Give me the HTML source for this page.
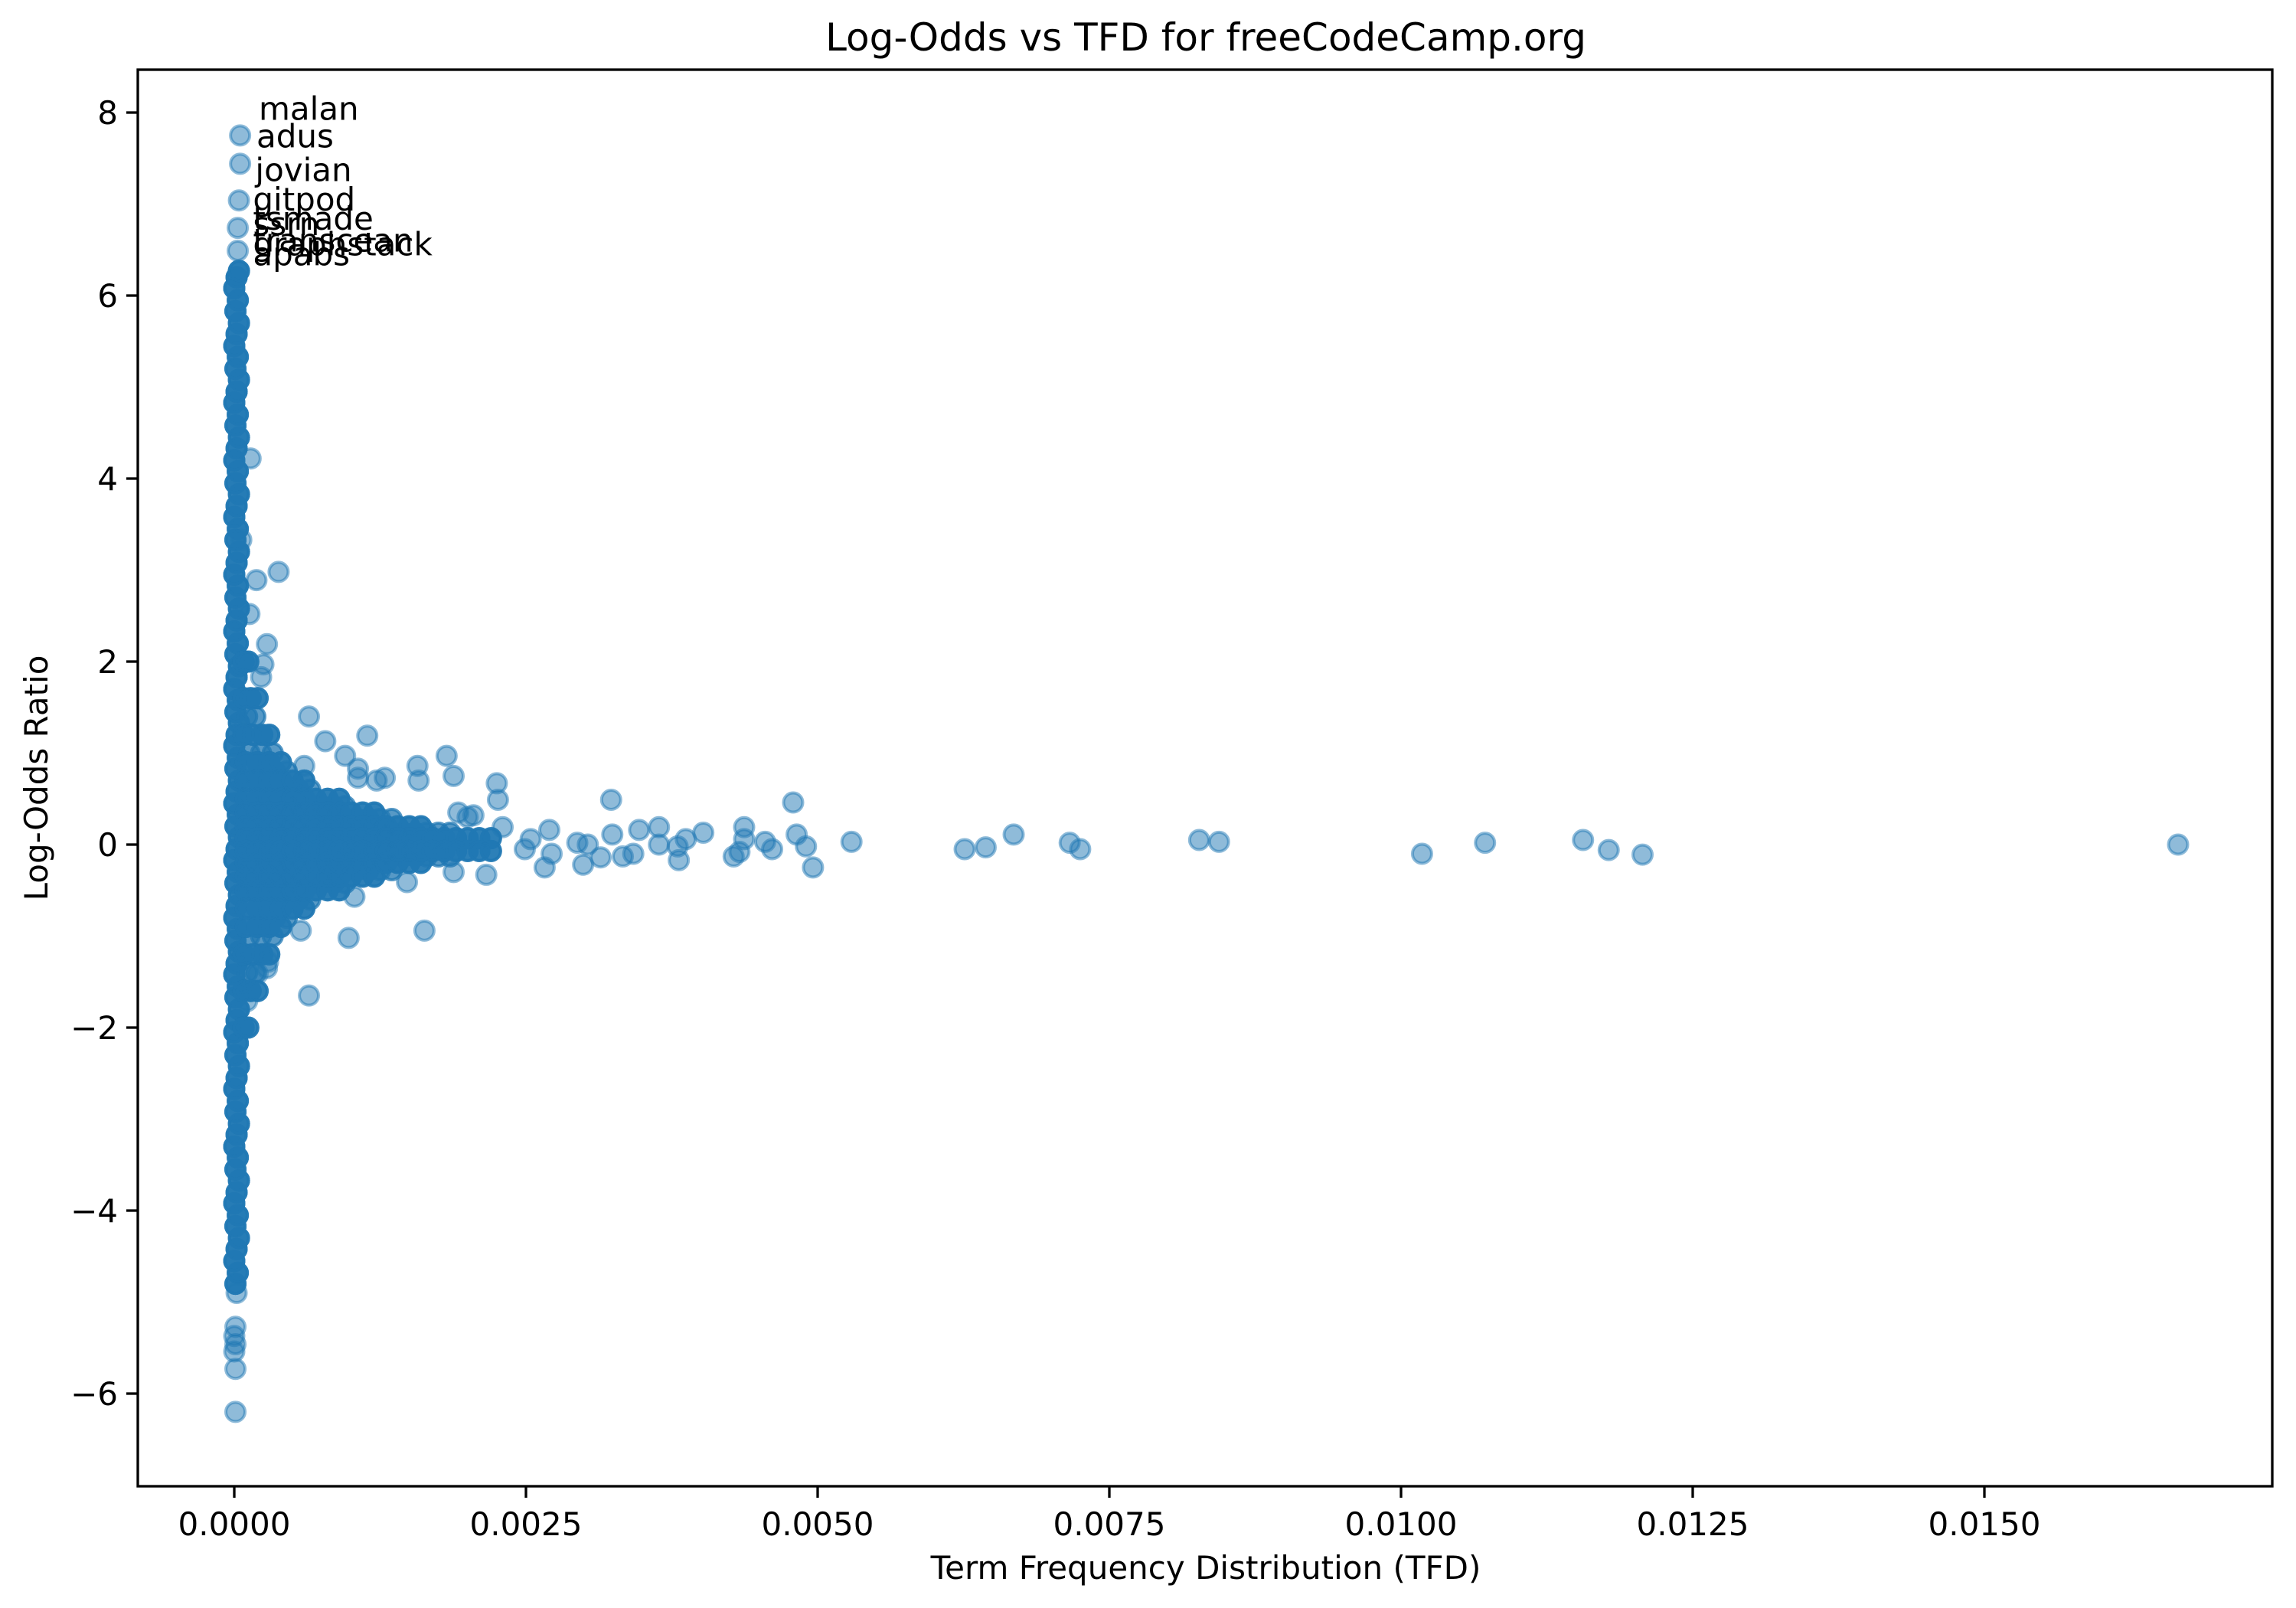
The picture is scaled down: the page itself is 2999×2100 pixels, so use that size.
<!DOCTYPE html>
<html><head><meta charset="utf-8"><style>html,body{margin:0;padding:0;background:#fff}svg{display:block}text{font-family:"DejaVu Sans","Liberation Sans",sans-serif;fill:#000}</style></head>
<body>
<svg id="chart" width="2999" height="2100" viewBox="0 0 2999 2100" xmlns="http://www.w3.org/2000/svg">
<rect width="2999" height="2100" fill="#fff"/>
<text x="1575" y="66" font-size="50" text-anchor="middle">Log-Odds vs TFD for freeCodeCamp.org</text>
<g id="marks"></g>
<g id="labels"></g>
<g id="axes"></g>
<text x="1575" y="2062" font-size="42" text-anchor="middle">Term Frequency Distribution (TFD)</text>
<text transform="translate(62,1016) rotate(-90)" font-size="42" text-anchor="middle">Log-Odds Ratio</text>
</svg>
<script>
const xTicks = [0, 0.0025, 0.005, 0.0075, 0.01, 0.0125, 0.015];
const xTickLabels = ["0.0000","0.0025","0.0050","0.0075","0.0100","0.0125","0.0150"];
const yTicks = [-6, -4, -2, 0, 2, 4, 6, 8];
const yTickLabels = ["\u22126","\u22124","\u22122","0","2","4","6","8"];
const labelWords = ["malan","adus","jovian","gitpod","tsmade","ssrn","transcean","graphstack","apabs"];
const labelTfd = [0.00021,0.00019,0.00018,0.00016,0.00016,0.00016,0.00016,0.00016,0.00016];
const labelLogOdds = [7.92,7.62,7.25,6.93,6.72,6.66,6.48,6.44,6.33];
const outlierTfd = [0.01666,0.01178,0.01207,0.01156,0.01072,0.01018,0.00844,0.00827,0.00725,0.00716,0.00668,0.00644,0.00626,0.00529,0.00496,0.0049,0.00479,0.00482,0.00461,0.00455,0.00437,0.00437,0.00433,0.00428,0.00402,0.00387,0.00381,0.0038,0.00364,0.00364,0.00347,0.00342,0.00333,0.00324,0.00323,0.00314,0.00303,0.00299,0.00294,0.00272,0.0027,0.00266,0.00254,0.00249,0.00225,0.00226,0.0023,0.00216,0.00205,0.002,0.00192,0.00188,0.00182,0.00188,0.00163,0.00157,0.00158,0.00148,0.00129,0.00122,0.00114,0.00106,0.00106,0.00103,0.00098,0.00095,0.00078,0.00064,0.00064,0.0006,0.00057,0.00038,0.00028,0.00025,0.00028,0.00023,0.00019,0.00013,0.00014,0.00011,0.00006,0.0002,0.00029,0.00015,0.00005,0.00005,0.00004,0.00003,0.00003,0.00002];
const outlierLogOdds = [0.0,-0.06,-0.11,0.05,0.02,-0.1,0.03,0.05,-0.05,0.02,0.11,-0.03,-0.05,0.03,-0.25,-0.02,0.46,0.11,-0.05,0.03,0.06,0.19,-0.08,-0.13,0.13,0.06,-0.17,-0.02,0.19,0,0.16,-0.1,-0.13,0.11,0.49,-0.14,0.0,-0.22,0.02,-0.1,0.16,-0.25,0.06,-0.05,0.67,0.49,0.19,-0.33,0.32,0.3,0.35,0.75,0.97,-0.3,-0.94,0.86,0.7,-0.41,0.73,0.7,1.19,0.83,0.73,-0.57,-1.02,0.97,1.13,-1.65,1.4,0.86,-0.94,2.98,-1.35,1.97,2.19,1.83,2.89,2.52,4.22,-1.71,3.33,-1.41,-1.28,-1.2,7.75,7.44,7.04,6.74,6.49,4.95];
const lowTailTfd = [0.00001,0.00001,0,0.00001,0,0.00001,0.00002];
const lowTailLogOdds = [-6.2,-5.73,-5.54,-5.46,-5.37,-5.27,-4.9];
const columnTfd = [0.00001,0.00003,0,0.00002,0.00004,0.00001,0.00003,0,0.00002,0.00004,0.00001,0.00003,0,0.00002,0.00004,0.00001,0.00003,0,0.00002,0.00004,0.00001,0.00003,0,0.00002,0.00004,0.00001,0.00003,0,0.00002,0.00004,0.00001,0.00003,0,0.00002,0.00004,0.00001,0.00003,0,0.00002,0.00004,0.00001,0.00003,0,0.00002,0.00004,0.00001,0.00003,0,0.00002,0.00004,0.00001,0.00003,0,0.00002,0.00004,0.00001,0.00003,0,0.00002,0.00004,0.00001,0.00003,0,0.00002,0.00004,0.00001,0.00003,0,0.00002,0.00004,0.00001,0.00003,0,0.00002,0.00004,0.00001,0.00003,0,0.00002,0.00004,0.00001,0.00003,0,0.00002,0.00004,0.00001,0.00003,0,0.00002,0.00004];
const columnLogOdds = [-4.8,-4.68,-4.55,-4.42,-4.3,-4.17,-4.05,-3.92,-3.8,-3.67,-3.55,-3.42,-3.3,-3.17,-3.05,-2.92,-2.8,-2.67,-2.55,-2.42,-2.3,-2.17,-2.05,-1.92,-1.8,-1.67,-1.55,-1.42,-1.3,-1.17,-1.05,-0.92,-0.8,-0.67,-0.55,-0.42,-0.3,-0.17,-0.05,0.08,0.2,0.33,0.45,0.58,0.7,0.83,0.95,1.08,1.2,1.33,1.45,1.58,1.7,1.83,1.95,2.08,2.2,2.33,2.45,2.58,2.7,2.83,2.95,3.08,3.2,3.33,3.45,3.58,3.7,3.83,3.95,4.08,4.2,4.33,4.45,4.58,4.7,4.83,4.95,5.08,5.2,5.33,5.45,5.58,5.7,5.83,5.95,6.08,6.2,6.27];
const coreTfd = [0.00008,0.00012,0.00008,0.00012,0.00008,0.00014,0.0002,0.00008,0.00014,0.0002,0.00008,0.00016,0.00024,0.0003,0.00008,0.00016,0.00024,0.0003,0.0001,0.0002,0.0003,0.0004,0.0001,0.0002,0.0003,0.0004,0.0001,0.0002,0.0003,0.0004,0.0005,0.0006,0.0001,0.0002,0.0003,0.0004,0.0005,0.0006,0.0001,0.0002,0.0003,0.0004,0.0005,0.0006,0.0007,0.0008,0.0009,0.0001,0.0002,0.0003,0.0004,0.0005,0.0006,0.0007,0.0008,0.0009,0.0001,0.0002,0.0003,0.0004,0.0005,0.0006,0.0007,0.0008,0.0009,0.001,0.0011,0.0012,0.0001,0.0002,0.0003,0.0004,0.0005,0.0006,0.0007,0.0008,0.0009,0.001,0.0011,0.0012,0.0001,0.0002,0.0003,0.0004,0.0005,0.0006,0.0007,0.0008,0.0009,0.001,0.0011,0.0012,0.0013,0.0014,0.0015,0.0016,0.0001,0.0002,0.0003,0.0004,0.0005,0.0006,0.0007,0.0008,0.0009,0.001,0.0011,0.0012,0.0013,0.0014,0.0015,0.0016,0.0001,0.0002,0.0003,0.0004,0.0005,0.0006,0.0007,0.0008,0.0009,0.001,0.0011,0.0012,0.0013,0.0014,0.0015,0.0016,0.0017,0.0018,0.0019,0.002,0.0021,0.0022,0.0001,0.0002,0.0003,0.0004,0.0005,0.0006,0.0007,0.0008,0.0009,0.001,0.0011,0.0012,0.0013,0.0014,0.0015,0.0016,0.0017,0.0018,0.0019,0.002,0.0021,0.0022];
const coreLogOdds = [2.0,2.0,-2.0,-2.0,1.6,1.6,1.6,-1.6,-1.6,-1.6,1.2,1.2,1.2,1.2,-1.2,-1.2,-1.2,-1.2,0.9,0.9,0.9,0.9,-0.9,-0.9,-0.9,-0.9,0.7,0.7,0.7,0.7,0.7,0.7,-0.7,-0.7,-0.7,-0.7,-0.7,-0.7,0.5,0.5,0.5,0.5,0.5,0.5,0.5,0.5,0.5,-0.5,-0.5,-0.5,-0.5,-0.5,-0.5,-0.5,-0.5,-0.5,0.35,0.35,0.35,0.35,0.35,0.35,0.35,0.35,0.35,0.35,0.35,0.35,-0.35,-0.35,-0.35,-0.35,-0.35,-0.35,-0.35,-0.35,-0.35,-0.35,-0.35,-0.35,0.2,0.2,0.2,0.2,0.2,0.2,0.2,0.2,0.2,0.2,0.2,0.2,0.2,0.2,0.2,0.2,-0.2,-0.2,-0.2,-0.2,-0.2,-0.2,-0.2,-0.2,-0.2,-0.2,-0.2,-0.2,-0.2,-0.2,-0.2,-0.2,0.07,0.07,0.07,0.07,0.07,0.07,0.07,0.07,0.07,0.07,0.07,0.07,0.07,0.07,0.07,0.07,0.07,0.07,0.07,0.07,0.07,0.07,-0.07,-0.07,-0.07,-0.07,-0.07,-0.07,-0.07,-0.07,-0.07,-0.07,-0.07,-0.07,-0.07,-0.07,-0.07,-0.07,-0.07,-0.07,-0.07,-0.07,-0.07,-0.07];
const fillTfd = [0.00011,0.00018,0.00011,0.00018,0.00013,0.00023,0.00033,0.00013,0.00023,0.00033,0.00015,0.00025,0.00035,0.00045,0.00015,0.00025,0.00035,0.00045,0.00015,0.00025,0.00035,0.00045,0.00055,0.00065,0.00015,0.00025,0.00035,0.00045,0.00055,0.00065,0.00015,0.00025,0.00035,0.00045,0.00055,0.00065,0.00075,0.00085,0.00095,0.00015,0.00025,0.00035,0.00045,0.00055,0.00065,0.00075,0.00085,0.00095,0.00015,0.00025,0.00035,0.00045,0.00055,0.00065,0.00075,0.00085,0.00095,0.00105,0.00115,0.00125,0.00135,0.00015,0.00025,0.00035,0.00045,0.00055,0.00065,0.00075,0.00085,0.00095,0.00105,0.00115,0.00125,0.00135,0.00015,0.00025,0.00035,0.00045,0.00055,0.00065,0.00075,0.00085,0.00095,0.00105,0.00115,0.00125,0.00135,0.00145,0.00155,0.00165,0.00175,0.00185,0.00015,0.00025,0.00035,0.00045,0.00055,0.00065,0.00075,0.00085,0.00095,0.00105,0.00115,0.00125,0.00135,0.00145,0.00155,0.00165,0.00175,0.00185];
const fillLogOdds = [1.4,1.4,-1.4,-1.4,1.0,1.0,1.0,-1.0,-1.0,-1.0,0.8,0.8,0.8,0.8,-0.8,-0.8,-0.8,-0.8,0.6,0.6,0.6,0.6,0.6,0.6,-0.6,-0.6,-0.6,-0.6,-0.6,-0.6,0.42,0.42,0.42,0.42,0.42,0.42,0.42,0.42,0.42,-0.42,-0.42,-0.42,-0.42,-0.42,-0.42,-0.42,-0.42,-0.42,0.28,0.28,0.28,0.28,0.28,0.28,0.28,0.28,0.28,0.28,0.28,0.28,0.28,-0.28,-0.28,-0.28,-0.28,-0.28,-0.28,-0.28,-0.28,-0.28,-0.28,-0.28,-0.28,-0.28,0.13,0.13,0.13,0.13,0.13,0.13,0.13,0.13,0.13,0.13,0.13,0.13,0.13,0.13,0.13,0.13,0.13,0.13,-0.13,-0.13,-0.13,-0.13,-0.13,-0.13,-0.13,-0.13,-0.13,-0.13,-0.13,-0.13,-0.13,-0.13,-0.13,-0.13,-0.13,-0.13];
// number of overlapping terms stacked at each dense-region point
const columnOverlap = 5;
const coreOverlap = 4;
const fillOverlap = 2;

const NS = "http://www.w3.org/2000/svg";
const L = 180, R = 2968, T = 91, B = 1941;
const X0 = 306, XPER = 152400, Y0 = 1103, YPER = 119.5;
function xs(v){ return X0 + v * XPER; }
function ys(v){ return Y0 - v * YPER; }
function mk(tag, attrs, parent){ const e = document.createElementNS(NS, tag); for (const k in attrs) e.setAttribute(k, attrs[k]); parent.appendChild(e); return e; }

const marks = document.getElementById('marks');
function drawSeries(xArr, yArr, name, overlap){
  for (let k = 0; k < overlap; k++){
    for (let i = 0; i < xArr.length; i++){
      const c = mk('circle', {cx: xs(xArr[i]), cy: ys(yArr[i]), r: 12.5, fill: '#1f77b4', 'fill-opacity': 0.5, stroke: '#1f77b4', 'stroke-opacity': 0.5, 'stroke-width': 4}, marks);
      
      
    }
  }
}
drawSeries(columnTfd, columnLogOdds, 'column-point', columnOverlap);
drawSeries(lowTailTfd, lowTailLogOdds, 'tail-point', 1);
drawSeries(fillTfd, fillLogOdds, 'core-fill-point', fillOverlap);
drawSeries(coreTfd, coreLogOdds, 'core-point', coreOverlap);
drawSeries(outlierTfd, outlierLogOdds, 'outlier-point', 1);

const labels = document.getElementById('labels');
for (let i = 0; i < labelWords.length; i++){
  const t = mk('text', {x: xs(labelTfd[i]), y: ys(labelLogOdds[i]), 'font-size': 42}, labels);
  t.textContent = labelWords[i];
  
  
}

const axes = document.getElementById('axes');
const frame = mk('rect', {x: L, y: T, width: R - L, height: B - T, fill: 'none', stroke: '#000', 'stroke-width': 3.3}, axes);


for (let i = 0; i < xTicks.length; i++){
  const x = xs(xTicks[i]);
  const tk = mk('line', {x1: x, y1: B, x2: x, y2: B + 15, stroke: '#000', 'stroke-width': 3.3}, axes);
  
  
  const t = mk('text', {x: x, y: B + 64, 'font-size': 42, 'text-anchor': 'middle'}, axes);
  t.textContent = xTickLabels[i];
  
  
}
for (let i = 0; i < yTicks.length; i++){
  const y = ys(yTicks[i]);
  const tk = mk('line', {x1: L - 15, y1: y, x2: L, y2: y, stroke: '#000', 'stroke-width': 3.3}, axes);
  
  
  const t = mk('text', {x: L - 26, y: y + 15, 'font-size': 42, 'text-anchor': 'end'}, axes);
  t.textContent = yTickLabels[i];
  
  
}
</script>
</body></html>
